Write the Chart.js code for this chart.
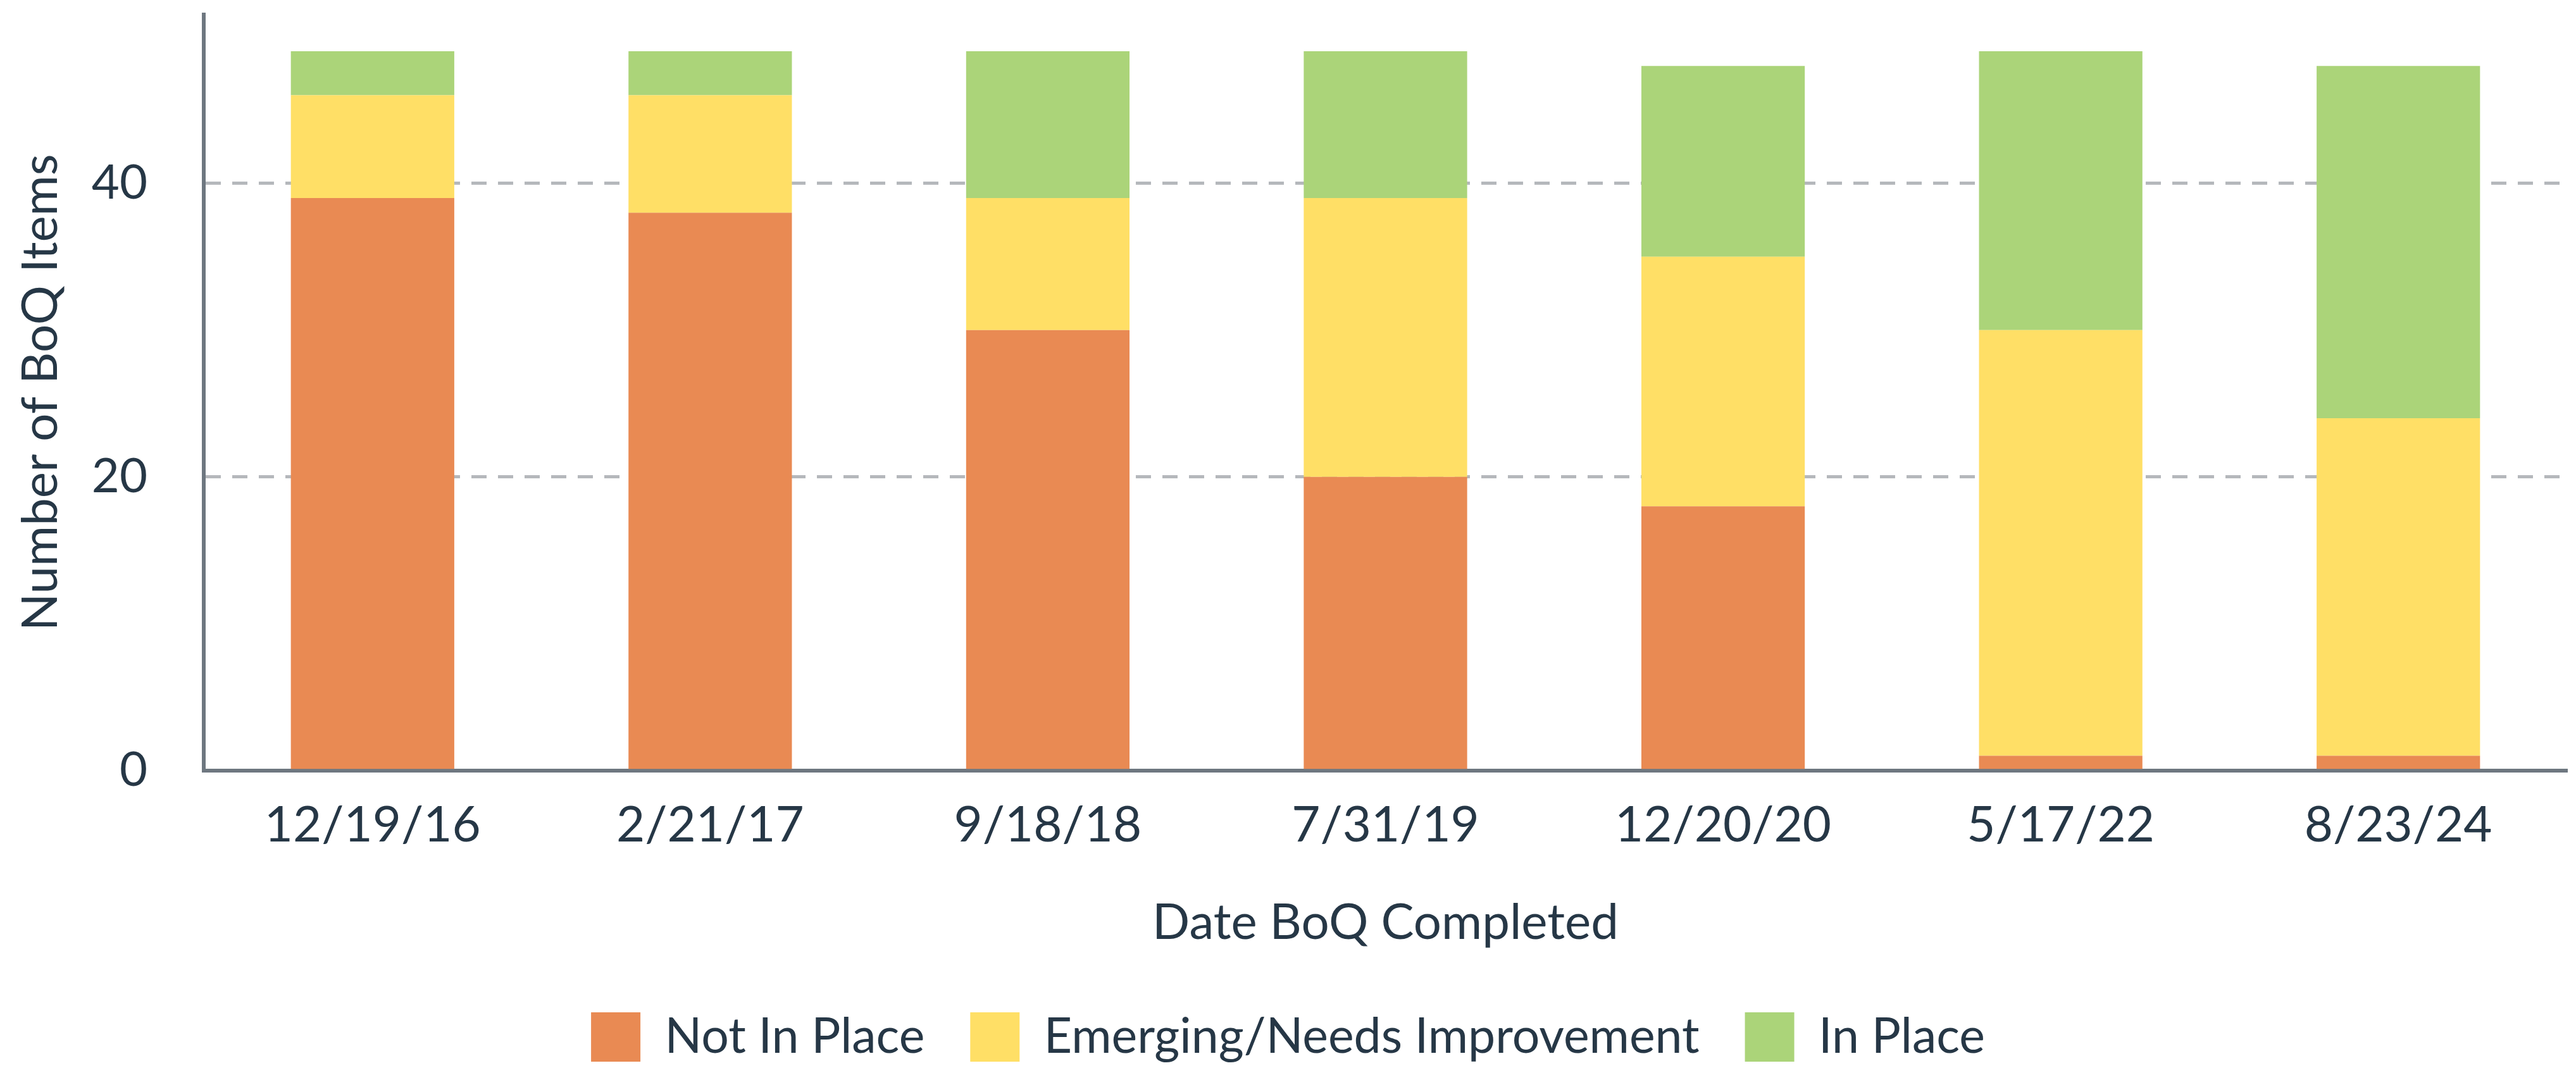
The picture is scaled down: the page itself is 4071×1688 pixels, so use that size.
<!DOCTYPE html>
<html>
<head>
<meta charset="utf-8">
<script src="https://cdn.jsdelivr.net/npm/chart.js@4"></script>
<style>
  html, body { margin: 0; padding: 0; background: #ffffff; }
  #wrap { width: 4071px; height: 1688px; position: relative; }
</style>
</head>
<body>
<div id="wrap"><canvas id="c" width="4071" height="1688"></canvas></div>
<script>
const categories = ["12/19/16", "2/21/17", "9/18/18", "7/31/19", "12/20/20", "5/17/22", "8/23/24"];
const notInPlace = [39, 38, 30, 20, 18, 1, 1];
const emerging   = [7, 8, 9, 19, 17, 29, 23];
const inPlace    = [3, 3, 10, 10, 13, 19, 24];
const yTicks = [0, 20, 40];
const seriesNames = ["Not In Place", "Emerging/Needs Improvement", "In Place"];
const seriesColors = ["#E98A53", "#FFDF66", "#ABD479"];

const textColor = "#263746";
const FONT = "Lato, 'Open Sans', sans-serif";

const chart = new Chart(document.getElementById("c"), {
  type: "bar",
  data: {
    labels: categories,
    datasets: [
      { label: seriesNames[0], data: notInPlace, backgroundColor: seriesColors[0] },
      { label: seriesNames[1], data: emerging, backgroundColor: seriesColors[1] },
      { label: seriesNames[2], data: inPlace, backgroundColor: seriesColors[2] }
    ]
  },
  options: {
    responsive: false,
    devicePixelRatio: 1,
    animation: false,
    layout: { padding: { left: 14, right: 14, top: 23, bottom: 0 } },
    datasets: { bar: { categoryPercentage: 1, barPercentage: 0.484, borderWidth: 0 } },
    plugins: {
      tooltip: { enabled: false },
      legend: {
        position: "bottom",
        labels: {
          color: textColor,
          font: { family: FONT, size: 77 },
          boxWidth: 78,
          boxHeight: 78,
          padding: 72
        }
      }
    },
    scales: {
      x: {
        stacked: true,
        grid: { display: false, drawTicks: false },
        border: { display: true, color: "#6E7780", width: 6 },
        ticks: { color: textColor, font: { family: FONT, size: 78 }, padding: 40, maxRotation: 0 },
        title: { display: true, text: "Date BoQ Completed", color: textColor, font: { family: FONT, size: 78 }, padding: { top: 21, bottom: 22 } }
      },
      y: {
        stacked: true,
        min: 0,
        max: 51.5,
        afterBuildTicks: (scale) => { scale.ticks = yTicks.map(v => ({ value: v })); },
        afterFit: (scale) => { scale.width = 308; scale.paddingTop = 0; scale.paddingBottom = 0; },
        grid: {
          color: (ctx) => ctx.tick && ctx.tick.value === 0 ? "rgba(0,0,0,0)" : "#B5B8BC",
          lineWidth: 5,
          drawTicks: false
        },
        border: { display: true, color: "#6E7780", width: 6, dash: [24, 18] },
        ticks: { color: textColor, font: { family: FONT, size: 76 }, padding: 89 },
        title: { display: true, text: "Number of BoQ Items", color: textColor, font: { family: FONT, size: 78 }, padding: { top: 4, bottom: 4 } }
      }
    }
  }
});
</script>
</body>
</html>
